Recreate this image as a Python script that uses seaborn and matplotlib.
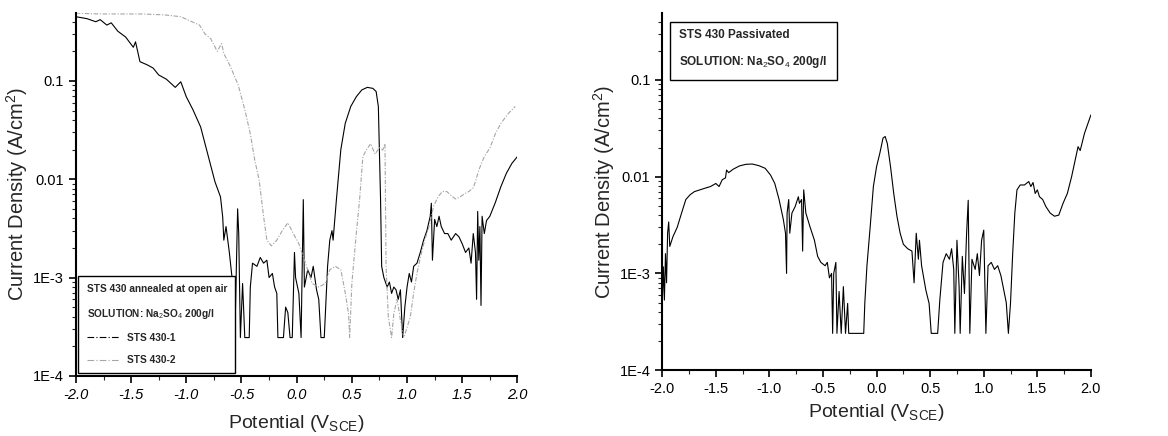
import numpy as np
import pandas as pd
import matplotlib
matplotlib.use('Agg')
import matplotlib.pyplot as plt
import matplotlib.ticker as mticker
from matplotlib.lines import Line2D
import seaborn as sns

# Datos: STS 430 recocido al aire (izquierda)
pot_1 = [-2.00, -1.90, -1.82, -1.78, -1.72, -1.68, -1.62, -1.55, -1.48, -1.46, -1.42, -1.35, -1.30, -1.25,
         -1.18, -1.10, -1.05, -1.00, -0.94, -0.87, -0.80, -0.74, -0.69, -0.67, -0.66, -0.64, -0.61, -0.58,
         -0.56, -0.545, -0.535, -0.525, -0.51, -0.49, -0.47, -0.43, -0.42, -0.40, -0.36, -0.33, -0.30, -0.27,
         -0.25, -0.22, -0.20, -0.18, -0.17, -0.14, -0.12, -0.10, -0.08, -0.06, -0.04, -0.02, -0.01, 0.02,
         0.04, 0.06, 0.07, 0.10, 0.13, 0.15, 0.18, 0.20, 0.22, 0.25, 0.28, 0.30, 0.32, 0.33, 0.36, 0.40,
         0.44, 0.49, 0.54, 0.59, 0.64, 0.69, 0.72, 0.74, 0.76, 0.77, 0.79, 0.82, 0.84, 0.86, 0.88, 0.90,
         0.92, 0.94, 0.96, 0.98, 1.00, 1.02, 1.04, 1.06, 1.09, 1.12, 1.15, 1.18, 1.21, 1.22, 1.23, 1.25,
         1.27, 1.29, 1.31, 1.34, 1.37, 1.40, 1.44, 1.47, 1.50, 1.53, 1.56, 1.58, 1.60, 1.62, 1.63, 1.64,
         1.65, 1.66, 1.67, 1.68, 1.70, 1.72, 1.75, 1.80, 1.85, 1.90, 1.95, 2.00]
cur_1 = [0.45, 0.43, 0.40, 0.42, 0.37, 0.39, 0.32, 0.28, 0.22, 0.25, 0.157, 0.145, 0.135, 0.115,
         0.104, 0.086, 0.098, 0.069, 0.051, 0.034, 0.017, 0.0094, 0.0066, 0.0041, 0.0024, 0.0033, 0.0018, 8.7e-4,
         2.45e-4, 0.0015, 0.0050, 0.0028, 2.45e-4, 8.7e-4, 2.45e-4, 2.45e-4, 8.0e-4, 0.0014, 0.0013, 0.0016, 0.0014, 0.0015,
         0.0010, 0.0011, 8.0e-4, 6.9e-4, 2.45e-4, 2.45e-4, 2.45e-4, 5.0e-4, 4.4e-4, 2.45e-4, 2.45e-4, 0.0018, 0.0010, 6.9e-4,
         2.45e-4, 0.0062, 8.0e-4, 0.0012, 0.0010, 0.0013, 7.5e-4, 6.0e-4, 2.45e-4, 2.45e-4, 0.0013, 0.0024, 0.0030, 0.0024, 0.0062, 0.020,
         0.037, 0.055, 0.069, 0.081, 0.086, 0.084, 0.078, 0.055, 0.0062, 0.0013, 0.0010, 8.0e-4, 9.0e-4, 6.9e-4, 8.0e-4, 7.5e-4,
         6.0e-4, 7.5e-4, 2.45e-4, 5.0e-4, 8.0e-4, 0.0011, 9.0e-4, 0.0013, 0.0014, 0.0018, 0.0024, 0.0030, 0.0042, 0.0057, 0.0015, 0.0039,
         0.0033, 0.0042, 0.0033, 0.0028, 0.0028, 0.0024, 0.0028, 0.0026, 0.0022, 0.0018, 0.0020, 0.0014, 0.0028, 0.0018, 6.0e-4, 0.0047,
         0.0015, 0.0033, 5.2e-4, 0.0042, 0.0028, 0.0038, 0.0042, 0.0058, 0.0084, 0.0115, 0.0145, 0.017]

pot_2 = [-2.00, -1.80, -1.60, -1.40, -1.20, -1.05, -0.95, -0.88, -0.83, -0.78, -0.72, -0.68, -0.66, -0.60,
         -0.53, -0.47, -0.42, -0.38, -0.34, -0.30, -0.27, -0.23, -0.18, -0.13, -0.08, -0.03, 0.02, 0.08,
         0.14, 0.20, 0.26, 0.30, 0.35, 0.40, 0.44, 0.47, 0.48, 0.50, 0.54, 0.57, 0.60, 0.63, 0.67, 0.71,
         0.75, 0.78, 0.80, 0.81, 0.83, 0.86, 0.88, 0.91, 0.94, 0.97, 1.00, 1.03, 1.06, 1.09, 1.12, 1.16,
         1.20, 1.24, 1.28, 1.32, 1.36, 1.40, 1.44, 1.48, 1.52, 1.56, 1.60, 1.62, 1.65, 1.70, 1.75, 1.80,
         1.85, 1.92, 1.98]
cur_2 = [0.49, 0.48, 0.48, 0.48, 0.47, 0.45, 0.40, 0.37, 0.30, 0.27, 0.20, 0.24, 0.19, 0.14,
         0.091, 0.051, 0.029, 0.0157, 0.0098, 0.0042, 0.0024, 0.0021, 0.0024, 0.0030, 0.0036, 0.0028, 0.0022, 0.0014,
         8.7e-4, 8.0e-4, 8.7e-4, 0.0012, 0.0013, 0.0012, 7.0e-4, 4.3e-4, 2.45e-4, 8.7e-4, 0.0028, 0.0062, 0.017, 0.0198, 0.023, 0.018,
         0.021, 0.0198, 0.023, 0.0013, 4.0e-4, 2.45e-4, 4.3e-4, 6.0e-4, 3.7e-4, 2.45e-4, 3.1e-4, 4.0e-4, 7.0e-4, 0.0011, 0.0016, 0.0024,
         0.0033, 0.0053, 0.0066, 0.0075, 0.0075, 0.0068, 0.0063, 0.0066, 0.0071, 0.0075, 0.0082, 0.0095, 0.0124, 0.017, 0.0207, 0.029,
         0.037, 0.047, 0.055]

# Datos: STS 430 pasivado (derecha)
pot_p = [-2.00, -1.99, -1.98, -1.97, -1.96, -1.95, -1.94, -1.93, -1.90, -1.86, -1.82, -1.78, -1.74, -1.70,
         -1.65, -1.60, -1.55, -1.50, -1.47, -1.44, -1.41, -1.40, -1.38, -1.34, -1.28, -1.22, -1.16, -1.10,
         -1.04, -0.99, -0.95, -0.91, -0.87, -0.85, -0.84, -0.835, -0.82, -0.81, -0.79, -0.76, -0.73, -0.72,
         -0.70, -0.69, -0.68, -0.66, -0.62, -0.58, -0.55, -0.52, -0.48, -0.46, -0.44, -0.42, -0.41, -0.40,
         -0.38, -0.37, -0.35, -0.33, -0.31, -0.29, -0.27, -0.26, -0.20, -0.14, -0.12, -0.11, -0.09, -0.06,
         -0.03, 0.00, 0.03, 0.06, 0.08, 0.10, 0.13, 0.16, 0.19, 0.22, 0.25, 0.29, 0.33, 0.35, 0.37, 0.39,
         0.40, 0.42, 0.46, 0.49, 0.51, 0.55, 0.57, 0.59, 0.62, 0.65, 0.68, 0.70, 0.72, 0.73, 0.75, 0.77,
         0.78, 0.80, 0.82, 0.84, 0.855, 0.87, 0.89, 0.92, 0.94, 0.96, 0.98, 1.00, 1.02, 1.04, 1.07, 1.10,
         1.13, 1.16, 1.19, 1.21, 1.23, 1.25, 1.27, 1.29, 1.31, 1.34, 1.38, 1.42, 1.44, 1.46, 1.48, 1.50,
         1.52, 1.55, 1.58, 1.62, 1.66, 1.70, 1.74, 1.78, 1.82, 1.86, 1.88, 1.90, 1.94, 2.00]
cur_p = [4.9e-4, 0.00117, 5.3e-4, 0.0016, 8.0e-4, 0.0026, 0.0034, 0.0019, 0.0024, 0.0030, 0.0042, 0.0058, 0.0065, 0.0070,
         0.0073, 0.0076, 0.0079, 0.0085, 0.0079, 0.0093, 0.0097, 0.0117, 0.0110, 0.0119, 0.0129, 0.0134, 0.0135, 0.0130,
         0.0122, 0.0104, 0.0085, 0.0058, 0.0036, 0.0026, 0.0010, 0.0042, 0.0058, 0.0026, 0.0042, 0.0049, 0.0062, 0.0053,
         0.0058, 0.0017, 0.0073, 0.0042, 0.0030, 0.0022, 0.0015, 0.0013, 0.0012, 0.0013, 9.0e-4, 0.0010, 2.4e-4, 0.0010,
         0.0013, 2.4e-4, 6.5e-4, 2.4e-4, 7.3e-4, 2.4e-4, 4.9e-4, 2.4e-4, 2.4e-4, 2.4e-4, 2.4e-4, 4.9e-4, 0.0012, 0.0030,
         0.0079, 0.0127, 0.0174, 0.025, 0.026, 0.022, 0.0127, 0.0067, 0.0039, 0.0026, 0.0020, 0.0018, 0.0017, 8.0e-4, 0.0026, 0.0014,
         0.0022, 0.0012, 6.7e-4, 4.9e-4, 2.4e-4, 2.4e-4, 2.4e-4, 5.3e-4, 0.0013, 0.0016, 0.0014, 0.0018, 0.0011, 2.4e-4, 0.0022, 7.3e-4,
         2.4e-4, 0.0015, 6.2e-4, 0.0026, 0.0057, 2.4e-4, 0.0014, 0.0011, 0.0016, 9.5e-4, 0.0022, 0.0028, 2.4e-4, 0.0012, 0.0013, 0.0011,
         0.0012, 9.5e-4, 6.5e-4, 5.0e-4, 2.4e-4, 5.0e-4, 0.0016, 0.0042, 0.0073, 0.0082, 0.0082, 0.0089, 0.0079, 0.0087, 0.0067, 0.0073,
         0.0062, 0.0058, 0.0049, 0.0042, 0.0039, 0.0040, 0.0053, 0.0067, 0.0100, 0.0161, 0.0204, 0.0186, 0.028, 0.0434]

df1 = pd.DataFrame({'pot': pot_1, 'cur': cur_1})
df2 = pd.DataFrame({'pot': pot_2, 'cur': cur_2})
dfp = pd.DataFrame({'pot': pot_p, 'cur': cur_p})

sns.set_style('ticks')
plt.rcParams['font.family'] = ['Liberation Sans', 'DejaVu Sans']
plt.rcParams['mathtext.fontset'] = 'custom'
plt.rcParams['mathtext.rm'] = 'Liberation Sans'
plt.rcParams['mathtext.bf'] = 'Liberation Sans:bold'

fig = plt.figure(figsize=(11.68, 4.36), dpi=100)
ax1 = fig.add_axes([0.065, 0.138, 0.378, 0.832])
ax2 = fig.add_axes([0.567, 0.151, 0.367, 0.819])

sns.lineplot(data=df1, x='pot', y='cur', ax=ax1, color='black', lw=0.8,
             sort=False, estimator=None)
sns.lineplot(data=df2, x='pot', y='cur', ax=ax1, color='0.65', lw=0.8,
             sort=False, estimator=None, linestyle=(0, (4, 1.5, 1, 1.5)))
sns.lineplot(data=dfp, x='pot', y='cur', ax=ax2, color='black', lw=0.8,
             sort=False, estimator=None)

for ax in (ax1, ax2):
    ax.set_yscale('log')
    ax.set_ylim(1e-4, 0.49)
    ax.set_xlim(-2.0, 2.0)
    ax.set_yticks([1e-4, 1e-3, 1e-2, 1e-1])
    ax.yaxis.set_major_formatter(mticker.FixedFormatter(['1E-4', '1E-3', '0.01', '0.1']))
    ax.yaxis.set_minor_locator(mticker.LogLocator(base=10, subs=np.arange(2, 10) * 1.0, numticks=10))
    ax.yaxis.set_minor_formatter(mticker.NullFormatter())
    ax.set_xticks(np.arange(-2.0, 2.01, 0.5))
    ax.xaxis.set_minor_locator(mticker.MultipleLocator(0.25))
    ax.xaxis.set_major_formatter(mticker.FormatStrFormatter('%.1f'))
    ax.tick_params(which='major', direction='out', length=5, width=1.2, labelsize=10.5, colors='black')
    ax.tick_params(which='minor', direction='out', length=3, width=0.8)
    sns.despine(ax=ax)
    for s in ('left', 'bottom'):
        ax.spines[s].set_linewidth(1.5)
        ax.spines[s].set_color('black')
    ax.set_ylabel('Current Density (A/cm$^2$)', fontsize=14.5, labelpad=2)

ax1.set_xlabel('Potential (V$_{\\mathrm{SCE}}$)', fontsize=14, labelpad=8)
ax2.set_xlabel('Potential (V$_{\\mathrm{SCE}}$)', fontsize=14, labelpad=4)

for lab in ax1.get_xticklabels():
    lab.set_fontstyle('italic')

handles = [Line2D([], [], color='black', lw=0.8, linestyle=(0, (6, 2, 1, 2))),
           Line2D([], [], color='0.65', lw=0.8, linestyle=(0, (6, 2, 1, 2)))]
leg = ax1.legend(handles, ['STS 430-1', 'STS 430-2'],
                 title='STS 430 annealed at open air\nSOLUTION: Na$_2$SO$_4$ 200g/l',
                 alignment='left', loc='lower left', bbox_to_anchor=(0.0, 0.0),
                 prop={'weight': 'bold', 'size': 7.3},
                 title_fontproperties={'weight': 'bold', 'size': 7.3},
                 frameon=True, fancybox=False, borderaxespad=0.25,
                 edgecolor='black', framealpha=1, labelspacing=1.2, handlelength=3.2,
                 borderpad=0.8)
leg.get_title().set_linespacing(2.3)
leg.get_frame().set_linewidth(1.0)

ax2.text(0.04, 0.955, 'STS 430 Passivated\nSOLUTION: Na$_2$SO$_4$ 200g/l',
         transform=ax2.transAxes, fontsize=8.5, va='top', ha='left', linespacing=2.2,
         weight='bold',
         bbox=dict(boxstyle='square,pad=0.8', fc='white', ec='black', lw=1.0))

plt.savefig('out.png', dpi=100)
